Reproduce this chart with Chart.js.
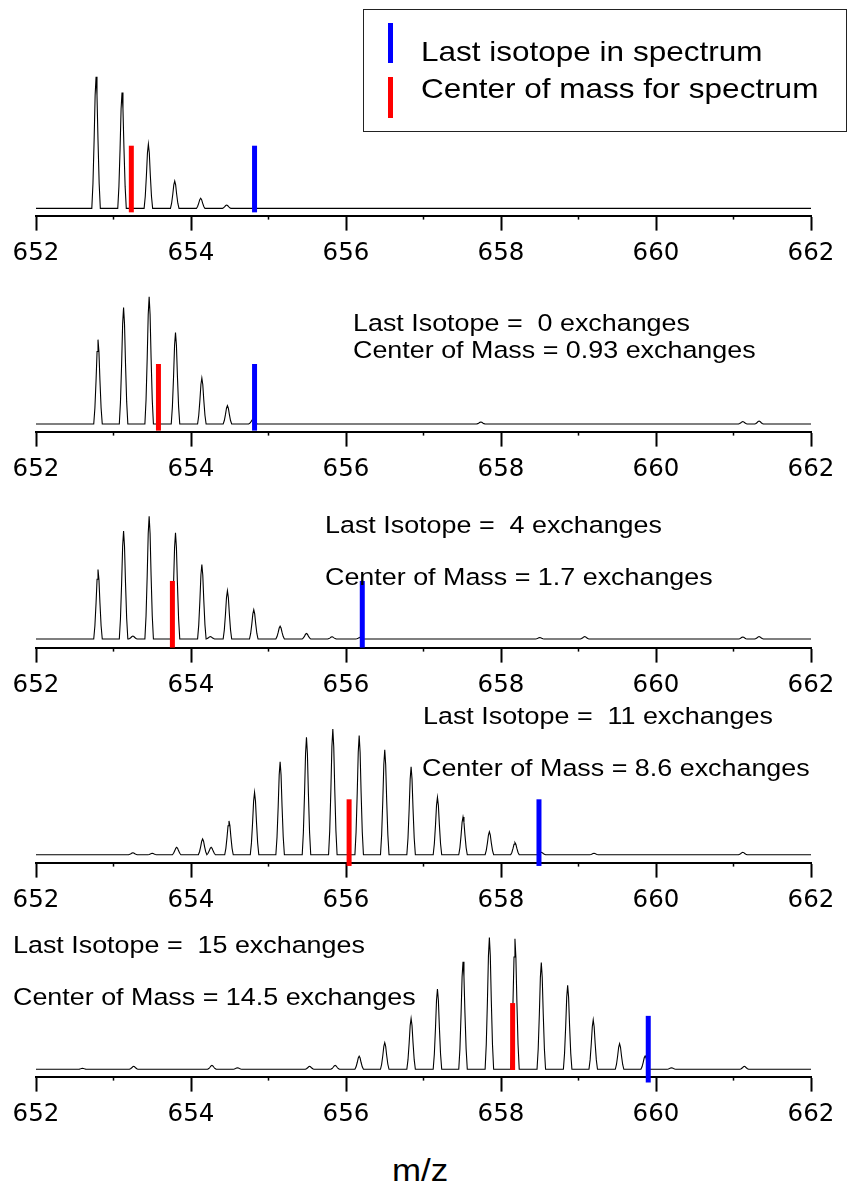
<!DOCTYPE html>
<html><head><meta charset="utf-8">
<script src="https://cdn.jsdelivr.net/npm/chart.js@4.4.1/dist/chart.umd.min.js"></script>
<style>
html,body{margin:0;padding:0;background:#fff;}
body{width:851px;height:1191px;position:relative;overflow:hidden;}
.panel{position:absolute;left:0;width:851px;height:220px;}
.txt{position:absolute;white-space:pre;font-family:"Liberation Sans",Arial,sans-serif;color:#000;transform-origin:0 0;transform:scaleX(1.125);z-index:5;}
#legend{position:absolute;left:363px;top:9px;width:484px;height:123px;border:1.5px solid #222;box-sizing:border-box;z-index:4;}
.lbar{position:absolute;width:5px;z-index:6;}
</style></head><body>
<div id="legend"></div>
<script>
// ---- data ----
const MZ_MIN = 652, MZ_MAX = 662;
const TICK_STEP = 2;
const TICK_LABELS = [652, 654, 656, 658, 660, 662];

// peak centroids (m/z) and intensities (a.u.) per spectrum
const P1_MZ  = [652.775, 653.11, 653.45, 653.79, 654.125, 654.46];
const P1_INT = [133.7, 117.7, 65.4, 27.7, 10.4, 3.4];

const P2_MZ  = [652.80, 653.13, 653.46, 653.80, 654.14, 654.47, 654.80, 657.74, 661.12, 661.33];
const P2_INT = [85.7, 118.3, 129.3, 93.0, 46.7, 18.7, 4.7, 2.0, 2.5, 3.0];

const P3_MZ  = [652.80, 653.13, 653.25, 653.46, 653.80, 654.14, 654.25, 654.47, 654.81, 655.15, 655.49, 655.82, 656.18, 658.50, 659.08, 661.12, 661.33];
const P3_INT = [70.7, 109.7, 3.0, 124.7, 108.0, 75.7, 2.5, 49.0, 29.7, 13.0, 5.7, 2.3, 1.5, 1.5, 2.5, 2.0, 2.5];

const P4_MZ  = [653.25, 653.50, 653.815, 654.15, 654.26, 654.49, 654.82, 655.15, 655.49, 655.83, 656.17, 656.50, 656.84, 657.18, 657.51, 657.85, 658.18, 658.52, 659.20, 661.12];
const P4_INT = [2.0, 1.5, 7.6, 16.0, 7.6, 34.3, 63.3, 94.3, 119.3, 127.6, 121.0, 106.6, 89.3, 58.3, 38.3, 23.3, 12.3, 2.5, 1.5, 2.5];

const P5_MZ  = [652.60, 653.26, 654.27, 654.60, 655.53, 655.86, 656.17, 656.50, 656.84, 657.18, 657.51, 657.85, 658.18, 658.52, 658.86, 659.19, 659.53, 659.86, 660.20, 661.14];
const P5_INT = [1.0, 3.0, 4.0, 1.5, 3.0, 4.0, 13.3, 27.0, 51.6, 81.6, 109.3, 134.0, 132.6, 108.6, 85.3, 50.3, 26.0, 13.6, 1.5, 3.0];

// marker lines: m/z and their vertical extent (a.u.)
const LAST_ISOTOPE_MZ   = [654.82, 654.82, 656.21, 658.49, 659.90];
const CENTER_OF_MASS_MZ = [653.23, 653.58, 653.76, 656.04, 658.15];
const LAST_MARK_TOP     = [63.7, 61.0, 59.0, 56.3, 54.3];
const LAST_MARK_BOTTOM  = [-4.0, -6.7, -8.7, -11.4, -13.4];
const COM_MARK_TOP      = [63.7, 61.0, 59.0, 56.3, 67.3];
const COM_MARK_BOTTOM   = [-4.0, -6.7, -8.7, -11.4, -0.7];

// annotation values
const LAST_ISOTOPE_EXCHANGES   = [null, '0', '4', '11', '15'];
const CENTER_OF_MASS_EXCHANGES = [null, '0.93', '1.7', '8.6', '14.5'];
const LEGEND_LABELS = ['Last isotope in spectrum', 'Center of mass for spectrum'];
const X_TITLE = 'm/z';

const SPECTRA = [[P1_MZ, P1_INT], [P2_MZ, P2_INT], [P3_MZ, P3_INT], [P4_MZ, P4_INT], [P5_MZ, P5_INT]];

// ---- layout / style ----
const AXIS_Y = [216, 431.7, 647.7, 862.3, 1076.7];
const Y_MIN  = [-7.3, -7.7, -8.7, -8.0, -7.4];
const BLUE = '#0000ff', RED = '#ff0000';
// peak profile template (offset in m/z, fraction of apex)
const SHAPE_DX = [-0.055, -0.04, -0.025, -0.012, 0, 0.012, 0.025, 0.04, 0.055];
const SHAPE_FY = [0, 0.19, 0.52, 0.86, 1, 0.86, 0.52, 0.19, 0];

function profile(mz, inten) {
  const pts = [{x: MZ_MIN, y: 0}];
  mz.forEach((m, k) => SHAPE_DX.forEach((d, j) => pts.push({x: m + d, y: inten[k] * SHAPE_FY[j]})));
  pts.push({x: MZ_MAX, y: 0});
  pts.sort((a, b) => a.x - b.x);
  return pts;
}

const minorTicks = {
  id: 'minorTicks',
  afterDraw(chart) {
    const s = chart.scales.x, ctx = chart.ctx;
    ctx.save();
    ctx.strokeStyle = '#000';
    ctx.lineWidth = 1.5;
    for (let v = MZ_MIN + 1; v < MZ_MAX; v += TICK_STEP) {
      const px = s.getPixelForValue(v);
      ctx.beginPath();
      ctx.moveTo(px, s.top);
      ctx.lineTo(px, s.top + 4);
      ctx.stroke();
    }
    ctx.restore();
  }
};

SPECTRA.forEach((sp, i) => {
  const div = document.createElement('div');
  div.className = 'panel';
  div.style.top = '0px';
  const cv = document.createElement('canvas');
  div.appendChild(cv);
  document.body.appendChild(div);
  const chart = new Chart(cv, {
    type: 'line',
    data: {
      datasets: [
        {data: [{x: LAST_ISOTOPE_MZ[i], y: LAST_MARK_BOTTOM[i]}, {x: LAST_ISOTOPE_MZ[i], y: LAST_MARK_TOP[i]}],
         borderColor: BLUE, borderWidth: 5, borderCapStyle: 'butt', pointRadius: 0, clip: false},
        {data: [{x: CENTER_OF_MASS_MZ[i], y: COM_MARK_BOTTOM[i]}, {x: CENTER_OF_MASS_MZ[i], y: COM_MARK_TOP[i]}],
         borderColor: RED, borderWidth: 5, borderCapStyle: 'butt', pointRadius: 0, clip: false},
        {data: profile(sp[0], sp[1]), borderColor: '#000', borderWidth: 1.1, pointRadius: 0, tension: 0}
      ]
    },
    options: {
      animation: false, responsive: true, maintainAspectRatio: false, events: [],
      layout: {padding: {left: 36, right: 40, top: 0, bottom: 0}},
      plugins: {legend: {display: false}, tooltip: {enabled: false}},
      scales: {
        x: {
          type: 'linear', min: MZ_MIN, max: MZ_MAX,
          border: {display: true, color: '#000', width: 2},
          grid: {drawOnChartArea: false, drawTicks: true, tickLength: 15, tickWidth: 2, tickColor: '#000'},
          afterBuildTicks: (s) => { s.ticks = TICK_LABELS.map(v => ({value: v})); },
          ticks: {color: '#000', font: {family: 'DejaVu Sans', size: 24.5}, padding: 8, maxRotation: 0, autoSkip: false}
        },
        y: {type: 'linear', display: false, min: Y_MIN[i], max: Y_MIN[i] + 150}
      }
    },
    plugins: [minorTicks]
  });
  const ca = chart.chartArea;
  chart.options.scales.y.max = Y_MIN[i] + (ca.bottom - ca.top);
  chart.update('none');
  div.style.top = (AXIS_Y[i] - chart.chartArea.bottom) + 'px';
});

// ---- text ----
function addText(str, left, baseline, fs) {
  const d = document.createElement('div');
  d.className = 'txt';
  d.textContent = str;
  d.style.fontSize = fs + 'px';
  d.style.lineHeight = fs + 'px';
  d.style.left = left + 'px';
  d.style.top = (baseline - 0.8465 * fs) + 'px';
  document.body.appendChild(d);
}
const ANN_POS = [null, [[353.3, 331.7], [353.3, 358.3]], [[325, 533.3], [325, 585]], [[422.7, 724.3], [421.7, 776.7]], [[13.3, 953.3], [13.3, 1005]]];
for (let i = 1; i < 5; i++) {
  addText('Last Isotope =  ' + LAST_ISOTOPE_EXCHANGES[i] + ' exchanges', ANN_POS[i][0][0], ANN_POS[i][0][1], 23.9);
  addText('Center of Mass = ' + CENTER_OF_MASS_EXCHANGES[i] + ' exchanges', ANN_POS[i][1][0], ANN_POS[i][1][1], 23.9);
}
addText(LEGEND_LABELS[0], 421, 61.7, 28);
addText(LEGEND_LABELS[1], 421, 99, 28);
addText(X_TITLE, 392, 1181, 31);
[[BLUE, 23, 40], [RED, 77, 41]].forEach(([c, t, h]) => {
  const b = document.createElement('div');
  b.className = 'lbar';
  b.style.cssText += `left:388px;top:${t}px;height:${h}px;background:${c}`;
  document.body.appendChild(b);
});
</script>
</body></html>
